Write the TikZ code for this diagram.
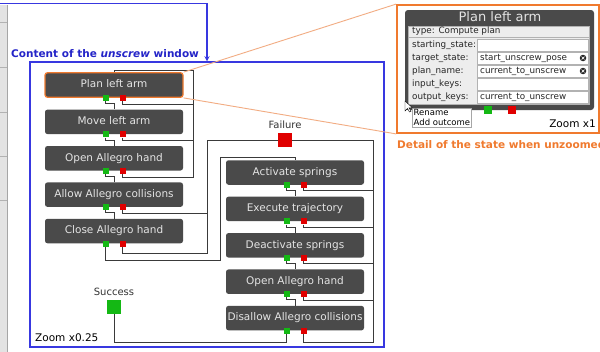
\documentclass[tikz,border=0pt]{standalone}
\usepackage{fontspec}
\setmainfont{DejaVu Sans}
\usetikzlibrary{positioning,calc,arrows.meta}
\definecolor{boxgray}{HTML}{4A4A4A}
\definecolor{boxtext}{HTML}{E4E4E4}
\definecolor{wiregray}{HTML}{3A3A3A}
\definecolor{labelgray}{HTML}{333333}
\definecolor{okgreen}{HTML}{14B814}
\definecolor{failred}{HTML}{E00000}
\definecolor{winblue}{HTML}{3838E0}
\definecolor{capblue}{HTML}{2424C8}
\definecolor{zoomorange}{HTML}{F07A2E}
\definecolor{calloutorange}{HTML}{F2AC82}
\definecolor{panelgray}{HTML}{EDEDED}

\begin{document}
\begin{tikzpicture}[x=1pt,y=-1pt,node distance=11.5pt,
    statebox/.style={fill=boxgray,rounded corners=2.5pt,text=boxtext,minimum width=138pt,
      minimum height=24.5pt,inner sep=0pt,text height=7.6pt,text depth=2pt,
      font=\fontsize{10.5}{12}\selectfont},
    outok/.style={fill=okgreen,minimum size=6pt,inner sep=0pt},
    outfail/.style={fill=failred,minimum size=6pt,inner sep=0pt},
    outcome/.style={minimum size=14pt,inner sep=0pt},
    outlabel/.style={text=labelgray,font=\fontsize{10}{12}\selectfont,inner sep=0pt},
    wire/.style={draw=wiregray,line width=1pt},
    callout/.style={draw=calloutorange,line width=0.9pt},
    formtext/.style={font=\fontsize{8.8}{10}\selectfont,text=black!85,inner sep=0pt},
    field/.style={draw=gray!60,fill=white,minimum width=111pt,minimum height=11.5pt,inner sep=0pt},
    clearicon/.style={circle,fill=black!85,minimum size=6.5pt,inner sep=0pt,
      path picture={\draw[white,line width=0.7pt]
        ([shift={(-1.4pt,-1.4pt)}]path picture bounding box.center) -- ++(2.8pt,2.8pt)
        ([shift={(-1.4pt,1.4pt)}]path picture bounding box.center) -- ++(2.8pt,-2.8pt);}}]
  \useasboundingbox (0,0) rectangle (600,351);
  \clip (0,0) rectangle (600,351);
  \fill[white] (0,0) rectangle (600,351);

  % strip of the main window on the left
  \fill[gray!22] (0,5) rectangle (7,352);
  \draw[gray!70] (7,5) -- (7,352);
  \foreach \y in {22,67,112,156,200}
    \draw[gray!60] (0,\y) -- (7,\y);

  % the unscrew window
  \node[draw=winblue,line width=1.5pt,minimum width=354pt,minimum height=285pt] (window) at (207,204.5) {};
  \node[anchor=west,text=capblue,inner sep=0pt,font=\bfseries\fontsize{10.5}{12}\selectfont] (wincap) at (11,54)
    {Content of the \textit{unscrew} window};
  \coordinate (topedge) at (0,3.5);
  \draw[draw=winblue,line width=1.1pt,-{Stealth[length=5pt,width=5pt]}]
    (topedge) -- (topedge -| window.north) -- (window.north);
  \node[anchor=west,outlabel,text=black,font=\fontsize{10.5}{12}\selectfont] (zoomsmall) at (35,338) {Zoom x0.25};

  % states
  \node[statebox,draw=zoomorange,line width=1.3pt] (plan) at (114,85) {Plan left arm};
  \node[statebox] (move) [below=of plan] {Move left arm};
  \node[statebox] (open) [below=of move] {Open Allegro hand};
  \node[statebox] (allow) [below=of open] {Allow Allegro collisions};
  \node[statebox] (close) [below=of allow] {Close Allegro hand};
  \node[statebox] (act) at (295,172.5) {Activate springs};
  \node[statebox] (exec) [below=of act] {Execute trajectory};
  \node[statebox] (deact) [below=of exec] {Deactivate springs};
  \node[statebox] (openr) [below=of deact] {Open Allegro hand};
  \node[statebox] (disallow) [below=of openr] {Disallow Allegro collisions};

  \foreach \s in {plan,move,open,allow,close,act,exec,deact,openr,disallow} {
    \node[outok] (\s-ok) at ([xshift=-8.5pt]\s.south) {};
    \node[outfail] (\s-fail) at ([xshift=8.5pt]\s.south) {};
  }

  % outcomes of the container
  \node[outcome,fill=failred] (failure) at (285,140) {};
  \node[outlabel,above=4pt of failure] (failtext) {Failure};
  \node[outcome,fill=okgreen] (success) at (114,307) {};
  \node[outlabel,above=4pt of success] (succtext) {Success};

  % transitions
  \foreach \a/\b in {plan/move,move/open,open/allow,allow/close,act/exec,exec/deact,deact/openr,openr/disallow}
    \draw[wire] (\a-ok) |- ($(\a-ok)!.5!(\b.north)$) -| (\b.north);

  \coordinate (retry) at (193,70);
  \foreach \s in {plan,move,open}
    \draw[wire] (\s-fail) -- ++(0,6.5) -| (retry);
  \draw[wire] (retry) -| (plan.north);

  \coordinate (failbus) at (207,140);
  \coordinate (failbusr) at (373,140);
  \draw[wire] (allow-fail) -- ++(0,6) -| (failbus);
  \draw[wire] (close-fail) -- ++(0,10) -| (failbus);
  \draw[wire] (failure) -- (failbus);
  \draw[wire] (failure) -- (failbusr);
  \foreach \s in {act,exec,deact,openr}
    \draw[wire] (\s-fail) -- ++(0,6) -| (failbusr);
  \draw[wire] (disallow-fail) -- ++(0,11.5) -| (failbusr);

  \coordinate (springbus) at (220,157);
  \draw[wire] (close-ok) -- ++(0,17) -| (springbus) -| (act.north);
  \draw[wire] (disallow-ok) -- ++(0,12) -| (success);

  % zoomed detail of the state
  \node[draw=zoomorange,line width=1.8pt,minimum width=202pt,minimum height=128pt] (detail) at (498,69) {};
  \draw[callout] (plan.north east) -- (detail.north west);
  \draw[callout] (plan.south east) -- (detail.south west);

  \node[fill=boxgray,rounded corners=3pt,minimum width=189pt,minimum height=100pt] (dpanel) at (499.5,60) {};
  \node[text=boxtext,inner sep=0pt,font=\fontsize{13}{15}\selectfont] (dtitle) at (500,17) {Plan left arm};
  \node[draw=gray!60,fill=panelgray,anchor=north west,minimum width=181pt,minimum height=78pt,inner sep=0pt] (dform) at (408,26) {};
  \draw[gray!60] (408,37.5) -- (589,37.5);
  \node[formtext,anchor=west] (dtype) at (412,31.5) {type: Compute plan};
  \foreach \key/\val [count=\i] in {starting\_state:/{},target\_state:/start\_unscrew\_pose,
      plan\_name:/current\_to\_unscrew,input\_keys:/{},output\_keys:/current\_to\_unscrew} {
    \node[formtext,anchor=west] (key\i) at (412,{32+13*\i}) {\key};
    \node[field] (field\i) at (532.5,{32+13*\i}) {};
    \node[formtext,anchor=west] (val\i) at (480,{32+13*\i}) {\val};
  }
  \node[clearicon] (clear2) at (583,58) {};
  \node[clearicon] (clear3) at (583,71) {};

  \node[outok,minimum size=8.5pt] (dok) at (488,110) {};
  \node[outfail,minimum size=8.5pt] (dfail) at (512,110) {};

  \node[draw=gray!70,fill=white,anchor=north west,align=left,inner sep=1.5pt,
    font=\fontsize{8.5}{10}\selectfont] (menu) at (412,108) {Rename\\Add outcome};
  \draw[fill=white,draw=black,line width=0.4pt] (405,101) -- (405,111) -- (407.5,108.5)
    -- (409.5,112) -- (411,111.2) -- (409,107.8) -- (412.5,107.8) -- cycle;

  \node[anchor=east,inner sep=0pt,font=\fontsize{10.5}{12}\selectfont] (zoomone) at (596,124) {Zoom x1};
  \node[anchor=west,inner sep=0pt,text=zoomorange,font=\bfseries\fontsize{10.5}{12}\selectfont] (detailcap) at (397,145)
    {Detail of the state when unzoomed};
\end{tikzpicture}
\end{document}
